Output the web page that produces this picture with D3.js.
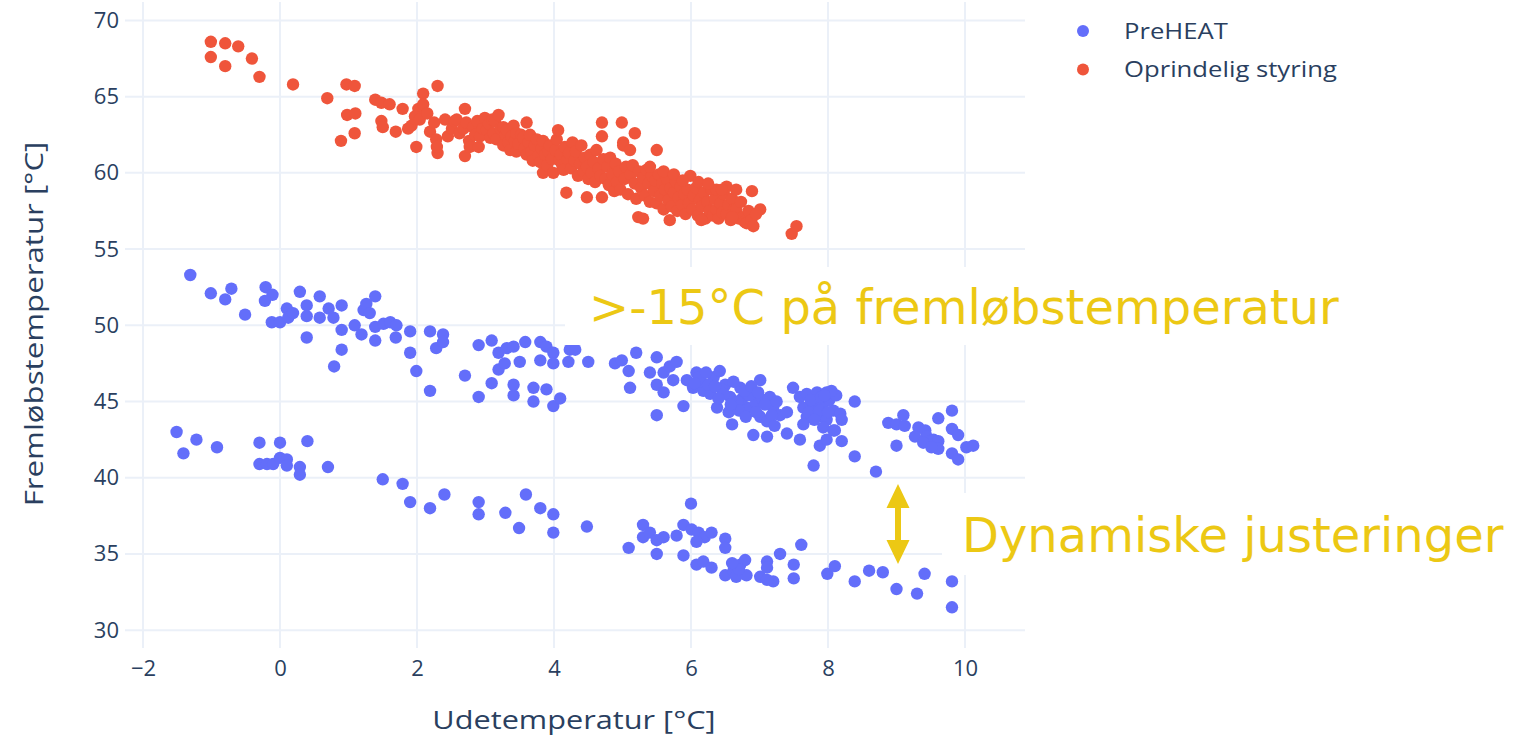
<!DOCTYPE html>
<html>
<head>
<meta charset="utf-8">
<script src="https://cdn.jsdelivr.net/npm/d3@7"></script>
<style>
  body { margin: 0; background: #fff; }
  text { font-family: "Open Sans", sans-serif; }
</style>
</head>
<body>
<svg id="chart" width="1526" height="739"></svg>
<script>
// values: [udetemperatur, fremløbstemperatur]
var seriesNames = ["PreHEAT", "Oprindelig styring"];
var xTicks = [-2, 0, 2, 4, 6, 8, 10];
var yTicks = [30, 35, 40, 45, 50, 55, 60, 65, 70];

var preheatUpper = [
  [-1.31,53.3],[-1.01,52.1],[-0.80,51.7],[-0.71,52.4],[-0.51,50.7],[-0.21,52.5],[-0.11,52.0],[-0.22,51.6],
  [-0.12,50.2],[0.00,50.2],[0.10,51.1],[0.12,50.5],[0.19,50.8],[0.29,52.2],[0.39,51.3],[0.39,50.6],[0.39,49.2],
  [0.58,51.9],[0.58,50.5],[0.71,51.1],[0.78,50.5],[0.90,51.3],[0.90,49.7],[0.90,48.4],[0.79,47.3],
  [1.09,50.0],[1.19,49.4],[1.22,51.0],[1.26,51.4],[1.31,50.8],[1.39,51.9],[1.39,49.9],[1.39,49.0],
  [1.51,50.1],[1.61,50.2],[1.70,50.0],[1.69,49.2],[1.90,49.6],[1.90,48.2],[1.99,47.0],[2.19,49.6],[2.19,45.7],
  [2.28,48.5],[2.38,49.4],[2.38,48.9],[2.70,46.7],[2.90,48.7],[2.90,45.3],[3.09,49.0],[3.09,46.2],
  [3.19,48.2],[3.19,47.1],[3.28,47.5],[3.31,48.5],[3.41,48.6],[3.50,47.6],[3.41,46.1],[3.41,45.4],
  [3.70,45.9],[3.70,45.0],[3.89,45.8],[3.58,48.9],[3.80,48.9],[3.89,48.6],[3.99,48.2],[3.80,47.7],[3.99,47.5],
  [3.99,44.7],[4.09,45.2],[4.23,48.4],[4.31,48.4],[4.21,47.6],[4.50,47.6],[4.89,47.5],[4.99,47.7],[5.09,47.0],
  [5.11,45.9],[5.20,48.2],[5.40,46.9],[5.50,47.9],[5.50,46.1],[5.50,44.1],[5.60,46.9],[5.60,45.6],[5.69,47.3],
  [5.79,47.6],[5.74,46.4],[5.89,44.7],[5.94,46.4],[6.08,46.9],[6.03,45.9],[6.18,45.7],[6.33,46.6],[6.42,47.0],
  [6.28,45.5],[6.38,44.6],[6.50,46.1],[6.57,45.3],[6.60,43.5],[6.72,45.9],[6.82,44.6],[6.91,45.5],[6.91,42.8],
  [7.01,46.4],[7.01,44.0],[7.11,42.7],[7.15,45.3],[7.20,44.6],[7.11,43.7],[6.45,45.8],[6.65,44.9],[6.75,45.2],
  [6.95,44.9],[7.05,45.1],[6.85,45.4],[6.15,46.3],[6.25,46.1],[6.55,44.3],[7.25,45.0],[7.30,44.1],[7.40,44.3],
  [6.12,46.6],[6.22,46.9],[6.35,46.0],[6.48,45.5],[6.62,46.3],[6.68,45.0],[6.78,45.7],[6.88,46.0],[6.98,45.6],
  [6.70,44.4],[6.80,44.0],[6.95,44.3],[7.08,44.8],[7.18,44.1],[7.22,43.4],[6.58,44.8],[6.40,45.2],[6.05,46.2],
  [7.40,42.9],[7.59,42.5],[7.49,45.9],[7.59,45.3],[7.69,45.5],[7.84,45.6],[7.98,45.6],[7.64,44.6],[7.79,44.7],
  [7.93,44.9],[8.08,44.4],[7.69,44.0],[7.84,44.0],[7.98,43.8],[8.18,44.2],[8.20,43.8],[7.64,43.5],[7.93,43.3],
  [8.08,43.1],[7.75,45.1],[7.90,45.3],[8.02,45.1],[7.72,44.3],[7.87,44.4],[8.00,44.3],[8.12,45.4],[7.80,43.8],
  [8.05,45.7],[7.95,45.4],[7.88,42.1],[7.98,42.5],[8.10,43.1],[8.20,42.4],[7.79,40.8],
  [8.39,45.0],[8.39,41.4],[8.70,40.4],[8.88,43.6],[9.00,43.5],[9.10,44.1],[9.12,43.4],[9.00,42.1],[9.32,43.3],
  [9.42,43.1],[9.27,42.7],[9.44,42.7],[9.54,42.5],[9.61,42.4],[9.61,41.9],[9.39,42.3],[9.51,42.0],[9.61,43.9],
  [9.81,44.4],[9.81,43.2],[9.90,42.8],[9.81,41.6],[9.90,41.2],[10.02,42.0],[10.12,42.1]
];

var preheatLower = [
  [-1.51,43.0],[-1.41,41.6],[-1.22,42.5],[-0.92,42.0],[-0.30,42.3],[-0.30,40.9],[-0.19,40.9],[-0.10,40.9],
  [0.00,42.3],[0.00,41.3],[0.10,41.2],[0.10,40.8],[0.29,40.7],[0.29,40.2],[0.40,42.4],[0.70,40.7],
  [1.50,39.9],[1.79,39.6],[1.90,38.4],[2.19,38.0],[2.40,38.9],[2.90,38.4],[2.90,37.6],[3.29,37.7],[3.49,36.7],
  [3.59,38.9],[3.80,38.0],[3.99,37.6],[3.99,36.4],[4.48,36.8],[5.09,35.4],[5.30,36.9],[5.30,36.1],[5.40,36.4],
  [5.50,35.9],[5.60,36.1],[5.50,35.0],[5.79,36.2],[5.89,36.9],[6.01,36.6],[6.11,36.4],[6.20,36.1],[6.30,36.4],
  [6.08,35.8],[6.00,38.3],[5.89,34.9],[6.08,34.3],[6.18,34.5],[6.30,34.1],[6.50,36.0],[6.50,35.4],[6.50,33.6],
  [6.62,33.9],[6.72,34.3],[6.79,34.6],[6.81,33.6],[6.66,33.5],[6.70,34.0],[6.60,34.4],[7.01,33.5],[7.11,34.5],
  [7.11,34.1],[7.20,33.2],[7.11,33.3],[7.30,35.0],[7.50,34.3],[7.50,33.4],[7.61,35.6],[7.99,33.7],[8.10,34.2],
  [8.39,33.2],[8.60,33.9],[8.80,33.8],[9.00,32.7],[9.30,32.4],[9.41,33.7],[9.81,33.2],[9.81,31.5]
];

var oprindelig = [
  [-1.01,68.6],[-0.80,68.5],[-0.61,68.3],[-1.01,67.6],[-0.80,67.0],[-0.41,67.5],[-0.30,66.3],[0.19,65.8],
  [0.69,64.9],[0.97,65.8],[1.09,65.7],[0.98,63.8],[1.10,63.9],[1.09,62.6],[0.89,62.1],[1.39,64.8],[1.48,64.6],
  [1.60,64.5],[1.79,64.2],[1.48,63.4],[1.50,63.0],[1.69,62.7],[2.09,65.2],[2.30,65.7],[2.02,64.2],[2.09,64.5],
  [1.97,63.7],[1.92,63.1],[2.04,63.5],[1.87,62.9],[1.99,61.7],[2.19,62.7],[2.30,61.3],[2.28,62.2],[2.70,64.2],
  [2.70,61.1],[2.29,61.7],[2.15,63.9],[2.25,63.3],
  [2.41,63.5],[2.45,62.4],[2.51,62.9],[2.55,63.4],[2.58,63.5],[2.62,62.6],[2.68,62.9],[2.72,63.3],[2.76,62.1],
  [2.82,63.0],[2.85,62.5],[2.88,63.4],[2.92,62.4],[2.96,62.9],[2.99,63.6],[2.77,61.7],[2.90,61.7],
  [3.02,62.8],[3.05,63.2],[3.07,62.3],[3.10,63.5],[3.12,62.6],[3.14,63.4],[3.16,62.2],[3.19,63.8],[3.22,62.9],
  [3.26,63.0],[3.26,61.8],[3.29,62.5],[3.31,62.8],[3.33,62.0],[3.36,61.5],[3.38,62.4],[3.41,63.1],[3.43,62.1],
  [3.45,62.6],[3.45,61.4],[3.48,61.9],
  [3.52,62.5],[3.55,62.3],[3.57,61.6],[3.60,63.3],[3.60,61.2],[3.63,62.0],[3.65,62.5],[3.67,61.4],[3.69,60.8],
  [3.72,61.8],[3.75,62.2],[3.77,61.1],[3.80,60.7],[3.82,61.6],[3.84,62.1],[3.84,60.0],[3.87,61.2],[3.90,60.5],
  [3.92,61.4],[3.94,61.8],[3.97,60.9],[3.99,60.0],
  [4.02,61.5],[4.04,62.2],[4.06,62.8],[4.08,60.8],[4.10,61.2],[4.12,60.5],[4.14,60.2],[4.16,61.7],[4.18,58.7],
  [4.20,60.9],[4.22,61.3],[4.25,60.3],[4.27,62.0],[4.30,60.8],[4.32,61.4],[4.35,59.8],[4.38,60.6],[4.40,61.8],
  [4.43,60.1],[4.45,61.0],[4.48,58.4],[4.48,60.4],[4.50,59.6],
  [4.53,61.2],[4.55,60.0],[4.58,60.7],[4.60,59.4],[4.62,61.5],[4.65,60.3],[4.68,59.8],[4.70,63.3],[4.70,62.4],
  [4.70,58.4],[4.72,60.9],[4.75,59.6],[4.78,60.4],[4.80,59.2],[4.82,61.0],[4.85,59.9],[4.88,58.8],[4.90,60.6],
  [4.92,59.4],[4.95,60.1],[4.97,58.9],[4.99,63.3],[5.01,62.0],
  [5.01,61.8],[5.03,59.6],[5.05,60.4],[5.08,58.6],[5.11,61.5],[5.12,59.9],[5.15,60.5],[5.18,62.6],[5.18,59.3],
  [5.20,58.3],[5.23,57.1],[5.24,60.1],[5.27,59.0],[5.30,57.0],[5.30,59.7],[5.33,58.5],[5.35,60.2],[5.38,59.3],
  [5.40,58.1],[5.43,59.8],[5.46,58.8],[5.48,59.5],[5.50,61.5],[5.50,58.0],
  [5.53,59.9],[5.55,58.5],[5.58,59.3],[5.60,57.6],[5.62,58.9],[5.65,59.6],[5.67,58.2],[5.69,56.9],[5.70,59.0],
  [5.72,57.8],[5.75,58.7],[5.78,59.4],[5.80,57.5],[5.82,58.4],[5.85,59.1],[5.87,57.9],[5.90,58.6],[5.92,57.3],
  [5.95,58.9],[5.97,58.0],[5.99,59.8],
  [6.02,57.6],[6.04,58.5],[6.07,59.0],[6.10,57.2],[6.11,59.4],[6.13,58.2],[6.16,57.8],[6.19,58.7],[6.21,57.0],
  [6.24,58.1],[6.27,57.5],[6.30,58.9],[6.32,57.2],[6.35,58.3],[6.37,58.9],[6.37,57.6],[6.40,57.0],[6.43,58.0],
  [6.46,57.4],[6.48,58.6],
  [6.52,59.1],[6.52,57.3],[6.55,57.9],[6.58,56.9],[6.60,58.3],[6.63,57.6],[6.66,58.9],[6.66,57.6],[6.70,57.0],
  [6.73,58.1],[6.76,57.1],[6.78,56.8],[6.81,56.7],[6.84,57.5],[6.88,56.9],[6.89,58.8],[6.91,56.5],[7.01,57.6],
  [5.40,60.4],[5.60,60.1],[5.75,59.9],[5.88,59.5],[6.25,59.3],[6.45,58.9],[6.15,56.9],[6.60,57.1],[6.95,57.3],
  [7.47,56.0],[7.54,56.5]
];

var series = [
  { name: seriesNames[0], color: "#636efa", points: preheatUpper.concat(preheatLower) },
  { name: seriesNames[1], color: "#EF553B", points: oprindelig }
];

var svg = d3.select("#chart");
var plot = { left: 125, right: 1025, top: 2, bottom: 648 };

var x = d3.scaleLinear().domain([-2.263, 10.876]).range([plot.left, plot.right]);
var y = d3.scaleLinear().domain([28.83, 71.21]).range([plot.bottom, plot.top]);

var textColor = "#2a3f5f";
var gridColor = "#EBF0F8";

// widen text a little, the source glyphs are broader than Open Sans
function widen(sel, f) {
  sel.each(function() {
    var w = this.getComputedTextLength();
    d3.select(this).attr("textLength", w * f).attr("lengthAdjust", "spacingAndGlyphs");
  });
}

// grid
svg.append("g").selectAll("line").data(xTicks).enter().append("line")
  .attr("x1", function(d) { return x(d); }).attr("x2", function(d) { return x(d); })
  .attr("y1", plot.top).attr("y2", plot.bottom)
  .attr("stroke", gridColor).attr("stroke-width", 2);
svg.append("g").selectAll("line").data(yTicks).enter().append("line")
  .attr("y1", function(d) { return y(d); }).attr("y2", function(d) { return y(d); })
  .attr("x1", plot.left).attr("x2", plot.right)
  .attr("stroke", gridColor).attr("stroke-width", 2);

// axes (labels only, like plotly)
var xAxis = svg.append("g")
  .attr("transform", "translate(0," + (plot.bottom + 12) + ")")
  .call(d3.axisBottom(x).tickValues(xTicks).tickSize(0).tickPadding(0)
    .tickFormat(function(d) { return d < 0 ? "\u2212" + Math.abs(d) : d; }));
xAxis.select(".domain").remove();
xAxis.selectAll("text").attr("fill", textColor).attr("dy", "0.71em")
  .style("font-size", "22px").style("font-family", "'Open Sans'");

var yAxis = svg.append("g")
  .attr("transform", "translate(" + (plot.left - 6) + ",0)")
  .call(d3.axisLeft(y).tickValues(yTicks).tickSize(0).tickPadding(0));
yAxis.select(".domain").remove();
yAxis.selectAll("text").attr("fill", textColor)
  .style("font-size", "22px").style("font-family", "'Open Sans'");

// axis titles
svg.append("text")
  .attr("x", 574).attr("y", 729)
  .attr("text-anchor", "middle").attr("fill", textColor)
  .style("font-size", "26px")
  .text("Udetemperatur [°C]")
  .call(widen, 1.18);
svg.append("text")
  .attr("transform", "translate(43," + 324 + ") rotate(-90)")
  .attr("text-anchor", "middle").attr("fill", textColor)
  .style("font-size", "26px")
  .text("Fremløbstemperatur [°C]")
  .call(widen, 1.2);

// points
series.forEach(function(s) {
  svg.append("g").selectAll("circle").data(s.points).enter().append("circle")
    .attr("cx", function(d) { return x(d[0]); })
    .attr("cy", function(d) { return y(d[1]); })
    .attr("r", 6.2)
    .attr("fill", s.color);
});

// legend
var legend = svg.append("g").selectAll("g").data(series).enter().append("g")
  .attr("transform", function(d, i) { return "translate(1083," + (31 + i * 38.5) + ")"; });
legend.append("circle").attr("r", 6).attr("fill", function(d) { return d.color; });
legend.append("text").attr("x", 41).attr("dy", "0.35em")
  .attr("fill", textColor).style("font-size", "22.5px")
  .text(function(d) { return d.name; })
  .call(widen, 1.14);

// annotations
var gold = "#ECC814";
function note(label, tx, ty, box) {
  svg.append("rect").attr("x", box[0]).attr("y", box[1]).attr("width", box[2]).attr("height", box[3])
    .attr("fill", "#fff");
  svg.append("text").attr("x", tx).attr("y", ty)
    .attr("fill", gold)
    .style("font-family", "'DejaVu Sans', Verdana, sans-serif")
    .style("font-size", "48px")
    .text(label);
}
note(">-15°C på fremløbstemperatur", 589, 324, [565, 267, 800, 78]);
note("Dynamiske justeringer", 962, 552, [942, 493, 584, 82]);

// double arrow
var ax = 898, aTop = 484, aBot = 564, hw = 11.5, hl = 24, sw = 3;
svg.append("path")
  .attr("d", "M" + ax + "," + aTop +
    "L" + (ax + hw) + "," + (aTop + hl) + "L" + (ax + sw) + "," + (aTop + hl) +
    "L" + (ax + sw) + "," + (aBot - hl) + "L" + (ax + hw) + "," + (aBot - hl) +
    "L" + ax + "," + aBot +
    "L" + (ax - hw) + "," + (aBot - hl) + "L" + (ax - sw) + "," + (aBot - hl) +
    "L" + (ax - sw) + "," + (aTop + hl) + "L" + (ax - hw) + "," + (aTop + hl) + "Z")
  .attr("fill", gold);
</script>
</body>
</html>
